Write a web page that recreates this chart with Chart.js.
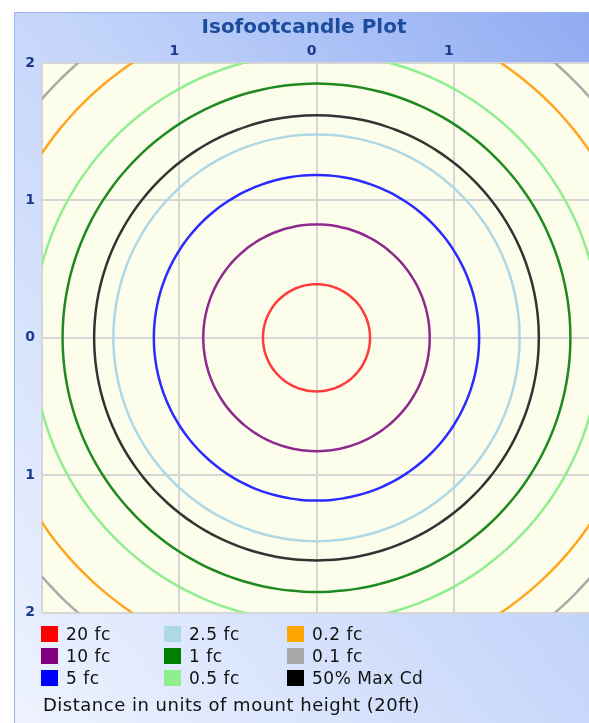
<!DOCTYPE html>
<html>
<head>
<meta charset="utf-8">
<script src="https://cdn.jsdelivr.net/npm/chart.js@4.4.1/dist/chart.umd.min.js"></script>
<style>
  html, body { margin: 0; padding: 0; background: #fff; width: 589px; height: 723px; overflow: hidden; }
  #panel {
    position: absolute; left: 14px; top: 12px; width: 590px; height: 711px;
    background: linear-gradient(to bottom left, #8eaaf1 0%, #c3d4fa 45%, #eef3fe 100%);
    box-shadow: inset 1px 1px 0 #9bb4ee;
  }
  #plot { position: absolute; left: 0; top: 0; width: 580px; height: 616px; }
  #legend {
    position: absolute; left: 27px; top: 611px;
    display: grid; grid-template-columns: 123px 123px 180px; grid-auto-flow: column; grid-template-rows: repeat(3, 22px);
    font-family: 'DejaVu Sans', sans-serif; font-size: 17px; letter-spacing: 0.5px; color: #111;
  }
  .item { display: flex; align-items: center; white-space: nowrap; }
  .swatch { width: 17px; height: 16px; margin-right: 8px; }
  #foot {
    position: absolute; left: 29px; top: 682px;
    font-family: 'DejaVu Sans', sans-serif; font-size: 18px; letter-spacing: 0.5px; color: #111; white-space: nowrap;
  }
</style>
</head>
<body>
<div id="panel">
  <div id="plot"><canvas id="c"></canvas></div>
  <div id="legend"></div>
  <div id="foot">Distance in units of mount height (20ft)</div>
</div>
<script>
// Contour levels (radius in units of mount height).
const levels = ['20 fc', '10 fc', '5 fc', '2.5 fc', '1 fc', '0.5 fc', '0.2 fc', '0.1 fc', '50% Max Cd'];
const radii  = [0.39, 0.825, 1.185, 1.48, 1.85, 2.07, 2.41, 2.65, 1.62];
const colors = ['#ff0000', '#800080', '#0000ff', '#add8e6', '#008000', '#90ee90', '#ffa500', '#a9a9a9', '#000000'];
const lineColors = ['#ff3b3b', '#8e2a8e', '#2b2bff', '#add8e6', '#1f8a1f', '#90ee90', '#ffa620', '#aaaaaa', '#333333'];

const xTicks = [-2, -1, 0, 1, 2];
const yTicks = [-2, -1, 0, 1, 2];

const tickColor = '#1d3a8a';
const tickFont = { family: 'DejaVu Sans', size: 14, weight: 'bold' };

// each isofootcandle contour is a circle around the fixture
function contour(r) {
  const pts = [];
  for (let a = 0; a <= 360; a += 3) {
    const t = a * Math.PI / 180;
    pts.push({ x: r * Math.cos(t), y: r * Math.sin(t) });
  }
  return pts;
}

const plotBg = {
  id: 'plotBg',
  beforeDraw(chart) {
    const { ctx, chartArea: a } = chart;
    ctx.save();
    ctx.fillStyle = '#fdfdec';
    ctx.fillRect(a.left, a.top, a.right - a.left, a.bottom - a.top);
    ctx.restore();
  }
};

new Chart(document.getElementById('c').getContext('2d'), {
  type: 'scatter',
  data: {
    datasets: levels.map((lab, i) => ({
      label: lab,
      data: contour(radii[i]),
      showLine: true,
      borderColor: lineColors[i],
      backgroundColor: colors[i],
      borderWidth: 2.5,
      tension: 0.2,   // also keeps Chart.js off its x-sorted fast path
      pointRadius: 0,
      pointHoverRadius: 0,
      fill: false,
    })),
  },
  options: {
    responsive: true,
    maintainAspectRatio: false,
    animation: false,
    events: [],
    layout: { padding: { left: 0, top: 0, right: 0, bottom: 12 } },
    plugins: {
      legend: { display: false },
      tooltip: { enabled: false },
      title: {
        display: true,
        text: 'Isofootcandle Plot',
        color: '#1c4c9e',
        font: { family: 'DejaVu Sans', size: 20, weight: 'bold' },
        padding: { top: 4, bottom: 0 },
      },
    },
    scales: {
      x: {
        type: 'linear', position: 'top', min: -2, max: 2,
        afterBuildTicks: s => { s.ticks = xTicks.map(v => ({ value: v })); },
        afterFit: s => { s.height = 23; },
        grid: { color: '#d6d6d6', lineWidth: 2, drawTicks: false },
        border: { display: false },
        ticks: {
          autoSkip: false, maxRotation: 0, padding: 3, labelOffset: -5,
          color: tickColor, font: tickFont,
          callback: v => (Math.abs(v) === 2 ? '' : String(Math.abs(v))),
        },
      },
      y: {
        type: 'linear', min: -2, max: 2,
        afterBuildTicks: s => { s.ticks = yTicks.map(v => ({ value: v })); },
        afterFit: s => { s.width = 28; },
        grid: { color: '#d6d6d6', lineWidth: 2, drawTicks: false },
        border: { display: false },
        ticks: {
          autoSkip: false, padding: 7,
          color: tickColor, font: tickFont,
          callback: v => String(Math.abs(v)),
        },
      },
    },
  },
  plugins: [plotBg],
});

// HTML legend, column-major like the original
const legend = document.getElementById('legend');
levels.forEach((lab, i) => {
  const el = document.createElement('div');
  el.className = 'item';
  el.innerHTML = '<span class="swatch" style="background:' + colors[i] + '"></span>' + lab;
  legend.appendChild(el);
});
</script>
</body>
</html>
